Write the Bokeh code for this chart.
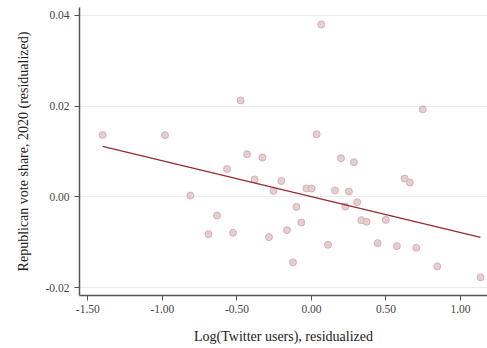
from bokeh.plotting import figure
from bokeh.models import FixedTicker, PrintfTickFormatter, Range1d, ColumnDataSource
from bokeh.embed import file_html
from bokeh.resources import INLINE

# Residualized data
twitter_resid = [-1.401, -0.982, -0.475, 0.066, 0.035, 0.747, -0.432, -0.329, 0.198, 0.285,
                 -0.566, -0.381, -0.202, -0.255, -0.812, 0.625, 0.660, -0.034, 0.001, 0.158,
                 0.251, 0.307, 0.227, -0.101, 0.334, 0.370, 0.499, -0.068, -0.633, -0.691,
                 -0.526, -0.164, -0.285, 0.111, 0.444, 0.573, 0.703, -0.124, 0.844, 1.134]
vote_resid = [0.01363, 0.0136, 0.02125, 0.03796, 0.01378, 0.01927, 0.00938, 0.00866, 0.0085, 0.00763,
              0.00615, 0.00382, 0.00352, 0.00132, 0.0003, 0.00404, 0.00316, 0.00185, 0.00185, 0.0014,
              0.00118, -0.00117, -0.00212, -0.0022, -0.00512, -0.00549, -0.00505, -0.00563, -0.00409, -0.0082,
              -0.0079, -0.00732, -0.00886, -0.01055, -0.01018, -0.01084, -0.01121, -0.01442, -0.0153, -0.01772]

fit_x = [-1.401, 1.134]
fit_y = [0.01114, -0.00893]

x_ticks = [-1.5, -1.0, -0.5, 0.0, 0.5, 1.0]
y_ticks = [-0.02, 0.0, 0.02, 0.04]

FONT = "Liberation Serif"

p = figure(width=487, height=348, output_backend="svg", toolbar_location=None,
           x_range=Range1d(-1.556, 1.181), y_range=Range1d(-0.02171, 0.0417),
           min_border_left=79, min_border_right=0, min_border_top=7, min_border_bottom=53)
p.outline_line_color = None
p.background_fill_color = "white"

src = ColumnDataSource(dict(x=twitter_resid, y=vote_resid))
p.scatter("x", "y", source=src, size=7, fill_color="#e6cdd0", line_color="#d6b2b7",
          line_width=1)
p.line(fit_x, fit_y, line_color="#962a30", line_width=1.2)

p.xgrid.grid_line_color = None
p.ygrid.grid_line_color = "#ececec"
p.ygrid.grid_line_width = 1

for ax in (p.xaxis[0], p.yaxis[0]):
    ax.axis_line_color = "#555555"
    ax.axis_line_width = 1.5
    ax.major_tick_line_color = "#555555"
    ax.major_tick_line_width = 1
    ax.major_tick_out = 5
    ax.major_tick_in = 0
    ax.minor_tick_line_color = None
    ax.major_label_text_font = FONT
    ax.major_label_text_font_size = "11.5px"
    ax.major_label_text_color = "#444444"
    ax.axis_label_text_font = FONT
    ax.axis_label_text_font_size = "14px"
    ax.axis_label_text_font_style = "normal"
    ax.axis_label_text_color = "#222222"
    ax.formatter = PrintfTickFormatter(format="%.2f")

p.xaxis[0].ticker = FixedTicker(ticks=x_ticks)
p.yaxis[0].ticker = FixedTicker(ticks=y_ticks)
p.xaxis[0].axis_label = "Log(Twitter users), residualized"
p.yaxis[0].axis_label = "Republican vote share, 2020 (residualized)"
p.xaxis[0].major_label_standoff = 4
p.yaxis[0].major_label_standoff = 5
p.xaxis[0].axis_label_standoff = 13
p.yaxis[0].axis_label_standoff = 12

open("out.html", "w").write(file_html(p, INLINE))
